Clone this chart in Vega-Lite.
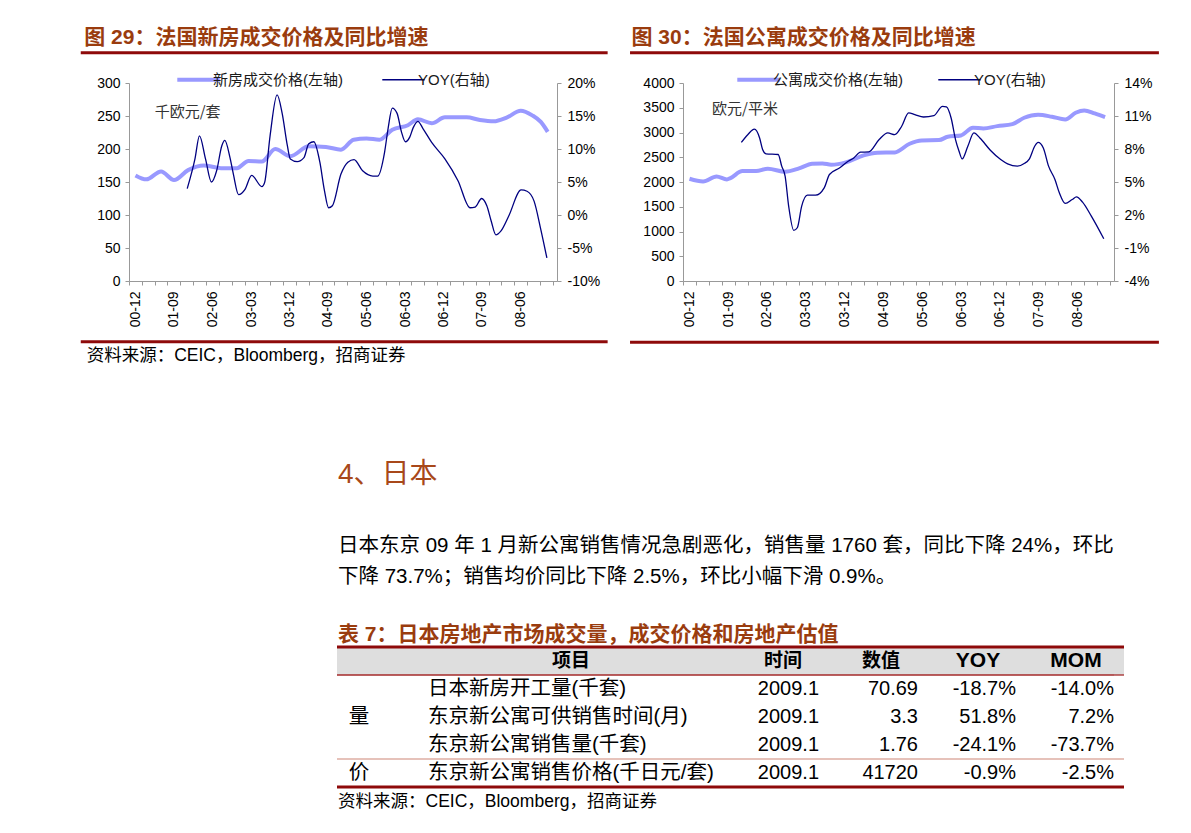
{
  "$schema": "https://vega.github.io/schema/vega-lite/v6.json",
  "autosize": {"type": "pad"},
  "padding": {"left": 79, "top": 27, "right": 5, "bottom": 5},
  "background": "#ffffff",
  "config": {
    "view": {"stroke": null},
    "font": "Liberation Sans, Noto Sans CJK SC",
    "axis": {"labelFont": "Liberation Sans", "labelFontSize": 14, "labelColor": "#000000", "domain": true, "ticks": true, "domainColor": "#999999", "domainWidth": 1, "tickColor": "#999999", "tickWidth": 1, "tickSize": 4, "grid": false},
    "text": {"font": "Liberation Sans, Noto Sans CJK SC"}
  },
  "datasets": {
    "p29": [
      {"d":"2000-12-01","v":160},{"d":"2001-02-16","v":154},{"d":"2001-06-01","v":166},{"d":"2001-09-01","v":153},
      {"d":"2001-12-10","v":168},{"d":"2002-04-01","v":175},{"d":"2002-08-01","v":171},{"d":"2002-11-22","v":171},
      {"d":"2003-02-13","v":182},{"d":"2003-05-19","v":181},{"d":"2003-08-22","v":200},{"d":"2003-12-07","v":189},
      {"d":"2004-04-16","v":204},{"d":"2004-08-16","v":203},{"d":"2004-12-01","v":199},{"d":"2005-03-01","v":214},
      {"d":"2005-06-01","v":216},{"d":"2005-09-01","v":214},{"d":"2005-12-01","v":229},{"d":"2006-03-22","v":236},
      {"d":"2006-06-01","v":245},{"d":"2006-09-07","v":239},{"d":"2006-12-10","v":248},{"d":"2007-05-13","v":248},
      {"d":"2007-08-16","v":244},{"d":"2007-11-22","v":242},{"d":"2008-02-25","v":248},{"d":"2008-06-01","v":258},
      {"d":"2008-08-22","v":251},{"d":"2008-10-22","v":241},{"d":"2008-12-10","v":226}
    ],
    "y29": [
      {"d":"2001-12-04","v":4.0},{"d":"2002-01-28","v":8.5},{"d":"2002-03-01","v":12.0},{"d":"2002-04-13","v":8.5},
      {"d":"2002-05-25","v":5.0},{"d":"2002-07-01","v":6.7},{"d":"2002-08-07","v":10.5},{"d":"2002-08-28","v":11.3},
      {"d":"2002-10-04","v":8.7},{"d":"2002-10-28","v":6.2},{"d":"2002-12-04","v":3.1},{"d":"2003-01-19","v":3.9},
      {"d":"2003-03-07","v":6.0},{"d":"2003-05-19","v":4.3},{"d":"2003-06-07","v":4.9},{"d":"2003-07-16","v":12.0},
      {"d":"2003-09-04","v":18.2},{"d":"2003-10-10","v":15.4},{"d":"2003-11-16","v":10.5},{"d":"2003-12-07","v":8.5},
      {"d":"2004-01-25","v":8.1},{"d":"2004-03-13","v":8.7},{"d":"2004-04-16","v":10.8},{"d":"2004-05-22","v":11.1},
      {"d":"2004-07-04","v":8.0},{"d":"2004-08-04","v":3.9},{"d":"2004-09-04","v":1.1},{"d":"2004-10-01","v":1.4},
      {"d":"2004-12-01","v":6.2},{"d":"2005-01-19","v":8.0},{"d":"2005-03-04","v":8.4},{"d":"2005-05-04","v":6.7},
      {"d":"2005-07-16","v":5.9},{"d":"2005-08-19","v":5.9},{"d":"2005-10-07","v":9.5},{"d":"2005-11-01","v":13.1},
      {"d":"2005-12-01","v":16.2},{"d":"2006-01-04","v":15.4},{"d":"2006-02-04","v":12.6},{"d":"2006-03-04","v":11.1},
      {"d":"2006-04-04","v":11.8},{"d":"2006-04-28","v":13.2},{"d":"2006-06-01","v":14.2},{"d":"2006-07-07","v":13.1},
      {"d":"2006-09-07","v":11.0},{"d":"2006-12-10","v":8.5},{"d":"2007-03-13","v":5.2},{"d":"2007-06-07","v":1.1},
      {"d":"2007-07-13","v":1.2},{"d":"2007-08-28","v":2.5},{"d":"2007-10-04","v":1.4},{"d":"2007-11-04","v":-0.9},
      {"d":"2007-12-07","v":-3.0},{"d":"2008-01-13","v":-2.4},{"d":"2008-03-07","v":-0.2},{"d":"2008-06-04","v":3.8},
      {"d":"2008-07-16","v":3.6},{"d":"2008-09-04","v":2.1},{"d":"2008-10-22","v":-2.2},{"d":"2008-12-04","v":-6.5}
    ],
    "p30": [
      {"d":"2000-12-01","v":2066},{"d":"2001-03-07","v":2012},{"d":"2001-06-10","v":2113},{"d":"2001-08-22","v":2053},
      {"d":"2001-09-16","v":2080},{"d":"2001-12-10","v":2221},{"d":"2002-03-16","v":2221},{"d":"2002-06-07","v":2268},
      {"d":"2002-10-07","v":2207},{"d":"2003-01-13","v":2275},{"d":"2003-04-16","v":2369},{"d":"2003-06-28","v":2376},
      {"d":"2003-08-28","v":2349},{"d":"2003-12-16","v":2403},{"d":"2004-04-13","v":2537},{"d":"2004-07-19","v":2591},
      {"d":"2004-11-19","v":2598},{"d":"2005-03-04","v":2773},{"d":"2005-05-28","v":2840},{"d":"2005-09-28","v":2847},
      {"d":"2005-11-28","v":2914},{"d":"2006-03-01","v":2941},{"d":"2006-05-25","v":3096},{"d":"2006-08-07","v":3082},
      {"d":"2006-11-13","v":3129},{"d":"2007-02-28","v":3170},{"d":"2007-05-22","v":3298},{"d":"2007-08-28","v":3358},
      {"d":"2007-12-04","v":3318},{"d":"2008-03-07","v":3264},{"d":"2008-05-19","v":3399},{"d":"2008-07-19","v":3446},
      {"d":"2008-10-01","v":3385},{"d":"2008-12-13","v":3311}
    ],
    "y30": [
      {"d":"2001-12-02","v":8.6},{"d":"2002-01-16","v":9.3},{"d":"2002-03-04","v":9.8},{"d":"2002-04-10","v":9.0},
      {"d":"2002-05-01","v":7.95},{"d":"2002-05-25","v":7.56},{"d":"2002-08-19","v":7.5},{"d":"2002-09-13","v":6.44},
      {"d":"2002-10-07","v":5.53},{"d":"2002-11-01","v":2.81},{"d":"2002-12-07","v":0.6},{"d":"2003-01-01","v":0.84},
      {"d":"2003-02-01","v":2.81},{"d":"2003-03-13","v":3.8},{"d":"2003-05-10","v":3.8},{"d":"2003-07-10","v":4.47},
      {"d":"2003-08-16","v":5.68},{"d":"2003-10-28","v":6.29},{"d":"2003-12-16","v":6.8},{"d":"2004-02-04","v":7.19},
      {"d":"2004-03-22","v":7.71},{"d":"2004-05-19","v":7.74},{"d":"2004-08-01","v":8.86},{"d":"2004-10-01","v":9.46},
      {"d":"2004-11-19","v":9.31},{"d":"2005-01-07","v":10.07},{"d":"2005-02-25","v":11.28},{"d":"2005-04-10","v":11.13},
      {"d":"2005-06-10","v":10.91},{"d":"2005-08-22","v":11.03},{"d":"2005-10-22","v":11.88},{"d":"2005-11-19","v":11.82},
      {"d":"2005-12-22","v":10.82},{"d":"2006-01-22","v":8.86},{"d":"2006-02-16","v":7.8},{"d":"2006-03-10","v":7.1},
      {"d":"2006-04-19","v":8.25},{"d":"2006-06-01","v":9.46},{"d":"2006-07-13","v":9.0},{"d":"2006-09-25","v":7.89},
      {"d":"2006-12-07","v":7.04},{"d":"2007-01-25","v":6.65},{"d":"2007-04-04","v":6.44},{"d":"2007-05-22","v":6.68},
      {"d":"2007-06-28","v":7.1},{"d":"2007-08-04","v":8.25},{"d":"2007-08-28","v":8.61},{"d":"2007-10-04","v":8.1},
      {"d":"2007-11-10","v":6.44},{"d":"2007-12-25","v":5.23},{"d":"2008-01-25","v":4.02},{"d":"2008-03-07","v":3.05},
      {"d":"2008-04-25","v":3.41},{"d":"2008-05-25","v":3.65},{"d":"2008-07-07","v":3.17},{"d":"2008-09-07","v":1.9},
      {"d":"2008-12-04","v":-0.16}
    ],
    "tbl": [
      {"r":0,"item":"项目","time":"时间","value":"数值","yoy":"YOY","mom":"MOM"},
      {"r":1,"item":"日本新房开工量(千套)","time":"2009.1","value":"70.69","yoy":"-18.7%","mom":"-14.0%"},
      {"r":2,"item":"东京新公寓可供销售时间(月)","time":"2009.1","value":"3.3","yoy":"51.8%","mom":"7.2%"},
      {"r":3,"item":"东京新公寓销售量(千套)","time":"2009.1","value":"1.76","yoy":"-24.1%","mom":"-73.7%"},
      {"r":4,"item":"东京新公寓销售价格(千日元/套)","time":"2009.1","value":"41720","yoy":"-0.9%","mom":"-2.5%"}
    ],
    "grp": [{"r":2,"g":"量"},{"r":4,"g":"价"}],
    "one": [{}]
  },
  "spacing": 96,
  "vconcat": [
    {
      "spacing": 18,
      "resolve": {"scale": {"color": "independent"}, "legend": {"color": "independent"}},
      "hconcat": [
        {
          "width": 428, "height": 198,
          "title": {"text": "图 29：法国新房成交价格及同比增速", "anchor": "start", "frame": "bounds", "fontSize": 21, "fontWeight": "bold", "color": "#9A3C0E", "font": "Liberation Sans, Noto Sans CJK SC", "offset": 3, "dx": 5},
          "resolve": {"scale": {"x": "independent", "y": "independent"}},
          "layer": [
            {
              "data": {"name": "p29"},
              "mark": {"type": "line", "interpolate": "monotone", "strokeWidth": 4},
              "encoding": {
                "x": {"field": "d", "type": "temporal",
                  "scale": {"type": "utc", "nice": false, "domain": [{"year":2000,"month":10,"date":16,"utc":true},{"year":2009,"month":2,"date":14,"utc":true}]},
                  "axis": {"title": null, "orient": "bottom", "labelAngle": 270, "labelOffset": 6.4, "labelOverlap": false, "labelFlush": false, "labelBound": false, "labelPadding": 6, "tickSize": 4,
                    "labelExpr": "((utcyear(datum.value) - 2000) * 12 + utcmonth(datum.value) - 9) % 9 == 0 && datum.value < utc(2009, 0, 1) ? utcFormat(utc(utcyear(datum.value), utcmonth(datum.value) + 2, 1), '%y-%m') : ''",
                    "values": [{"year":2000,"month":10,"date":16,"utc":true},
                      {"year":2001,"month":1,"date":16,"utc":true},{"year":2001,"month":4,"date":16,"utc":true},{"year":2001,"month":7,"date":16,"utc":true},{"year":2001,"month":10,"date":16,"utc":true},
                      {"year":2002,"month":1,"date":16,"utc":true},{"year":2002,"month":4,"date":16,"utc":true},{"year":2002,"month":7,"date":16,"utc":true},{"year":2002,"month":10,"date":16,"utc":true},
                      {"year":2003,"month":1,"date":16,"utc":true},{"year":2003,"month":4,"date":16,"utc":true},{"year":2003,"month":7,"date":16,"utc":true},{"year":2003,"month":10,"date":16,"utc":true},
                      {"year":2004,"month":1,"date":16,"utc":true},{"year":2004,"month":4,"date":16,"utc":true},{"year":2004,"month":7,"date":16,"utc":true},{"year":2004,"month":10,"date":16,"utc":true},
                      {"year":2005,"month":1,"date":16,"utc":true},{"year":2005,"month":4,"date":16,"utc":true},{"year":2005,"month":7,"date":16,"utc":true},{"year":2005,"month":10,"date":16,"utc":true},
                      {"year":2006,"month":1,"date":16,"utc":true},{"year":2006,"month":4,"date":16,"utc":true},{"year":2006,"month":7,"date":16,"utc":true},{"year":2006,"month":10,"date":16,"utc":true},
                      {"year":2007,"month":1,"date":16,"utc":true},{"year":2007,"month":4,"date":16,"utc":true},{"year":2007,"month":7,"date":16,"utc":true},{"year":2007,"month":10,"date":16,"utc":true},
                      {"year":2008,"month":1,"date":16,"utc":true},{"year":2008,"month":4,"date":16,"utc":true},{"year":2008,"month":7,"date":16,"utc":true},{"year":2008,"month":10,"date":16,"utc":true},
                      {"year":2009,"month":1,"date":16,"utc":true}]}},
                "y": {"field": "v", "type": "quantitative", "scale": {"domain": [0, 300], "nice": false, "zero": false},
                  "axis": {"orient": "left", "title": null, "values": [0, 50, 100, 150, 200, 250, 300], "labelPadding": 5}},
                "color": {"datum": "新房成交价格(左轴)", "type": "nominal",
                  "scale": {"domain": ["新房成交价格(左轴)", "YOY(右轴)"], "range": ["#9999FF", "#000080"]},
                  "legend": {"orient": "none", "legendX": 62, "legendY": -11, "direction": "horizontal", "title": null, "symbolType": "stroke", "symbolSize": 1800, "labelFontSize": 15, "labelFont": "Liberation Sans, Noto Sans CJK SC", "labelColor": "#1a1a1a", "columnPadding": 36, "labelOffset": 7, "padding": 0, "labelLimit": 300,
                    "encode": {"symbols": {"update": {"strokeWidth": {"signal": "datum.value === 'YOY(右轴)' ? 1.5 : 4"}}}}}}
              }
            },
            {
              "data": {"name": "y29"},
              "mark": {"type": "line", "interpolate": "monotone", "strokeWidth": 1.3},
              "encoding": {
                "x": {"field": "d", "type": "temporal", "scale": {"type": "utc", "nice": false, "domain": [{"year":2000,"month":10,"date":16,"utc":true},{"year":2009,"month":2,"date":14,"utc":true}]}, "axis": null},
                "y": {"field": "v", "type": "quantitative", "scale": {"domain": [-10, 20], "nice": false, "zero": false},
                  "axis": {"orient": "right", "title": null, "values": [-10, -5, 0, 5, 10, 15, 20], "labelExpr": "datum.value + '%'", "labelPadding": 6}},
                "color": {"datum": "YOY(右轴)", "type": "nominal"}
              }
            },
            {
              "data": {"name": "one"},
              "mark": {"type": "rule", "color": "#8E0A0A", "strokeWidth": 3},
              "encoding": {
                "x": {"datum": {"year":1999,"month":11,"date":8,"utc":true}, "type": "temporal", "scale": {"type": "utc", "nice": false, "domain": [{"year":2000,"month":10,"date":16,"utc":true},{"year":2009,"month":2,"date":14,"utc":true}]}, "axis": null},
                "x2": {"datum": {"year":2010,"month":2,"date":9,"utc":true}},
                "y": {"datum": 345.9, "type": "quantitative", "scale": {"domain": [0, 300], "nice": false, "zero": false}, "axis": null}
              }
            },
            {
              "data": {"name": "one"},
              "mark": {"type": "rule", "color": "#8E0A0A", "strokeWidth": 3},
              "encoding": {
                "x": {"datum": {"year":1999,"month":11,"date":8,"utc":true}, "type": "temporal", "scale": {"type": "utc", "nice": false, "domain": [{"year":2000,"month":10,"date":16,"utc":true},{"year":2009,"month":2,"date":14,"utc":true}]}, "axis": null},
                "x2": {"datum": {"year":2010,"month":2,"date":9,"utc":true}},
                "y": {"datum": -92, "type": "quantitative", "scale": {"domain": [0, 300], "nice": false, "zero": false}, "axis": null}
              }
            },
            {
              "data": {"values": [{"t": "千欧元/套"}]},
              "mark": {"type": "text", "align": "left", "baseline": "middle", "fontSize": 15, "color": "#333333", "font": "Noto Sans CJK SC"},
              "encoding": {
                "x": {"datum": {"year":2001,"month":4,"date":17,"utc":true}, "type": "temporal", "scale": {"type": "utc", "nice": false, "domain": [{"year":2000,"month":10,"date":16,"utc":true},{"year":2009,"month":2,"date":14,"utc":true}]}, "axis": null},
                "y": {"datum": 256.5, "type": "quantitative", "scale": {"domain": [0, 300], "nice": false, "zero": false}, "axis": null},
                "text": {"field": "t"}
              }
            },
            {
              "data": {"values": [{"t": "资料来源：CEIC，Bloomberg，招商证券"}]},
              "mark": {"type": "text", "align": "left", "baseline": "middle", "fontSize": 17.5, "color": "#000000"},
              "encoding": {
                "x": {"datum": {"year":1999,"month":12,"date":20,"utc":true}, "type": "temporal", "scale": {"type": "utc", "nice": false, "domain": [{"year":2000,"month":10,"date":16,"utc":true},{"year":2009,"month":2,"date":14,"utc":true}]}, "axis": null},
                "y": {"datum": -113, "type": "quantitative", "scale": {"domain": [0, 300], "nice": false, "zero": false}, "axis": null},
                "text": {"field": "t"}
              }
            }
          ]
        },
        {
          "width": 431, "height": 198,
          "title": {"text": "图 30：法国公寓成交价格及同比增速", "anchor": "start", "frame": "bounds", "fontSize": 21, "fontWeight": "bold", "color": "#9A3C0E", "font": "Liberation Sans, Noto Sans CJK SC", "offset": 3, "dx": 3},
          "resolve": {"scale": {"x": "independent", "y": "independent"}},
          "layer": [
            {
              "data": {"name": "p30"},
              "mark": {"type": "line", "interpolate": "monotone", "strokeWidth": 4},
              "encoding": {
                "x": {"field": "d", "type": "temporal",
                  "scale": {"type": "utc", "nice": false, "domain": [{"year":2000,"month":10,"date":16,"utc":true},{"year":2009,"month":2,"date":14,"utc":true}]},
                  "axis": {"title": null, "orient": "bottom", "labelAngle": 270, "labelOffset": 6.4, "labelOverlap": false, "labelFlush": false, "labelBound": false, "labelPadding": 6, "tickSize": 4,
                    "labelExpr": "((utcyear(datum.value) - 2000) * 12 + utcmonth(datum.value) - 9) % 9 == 0 && datum.value < utc(2009, 0, 1) ? utcFormat(utc(utcyear(datum.value), utcmonth(datum.value) + 2, 1), '%y-%m') : ''",
                    "values": [{"year":2000,"month":10,"date":16,"utc":true},
                      {"year":2001,"month":1,"date":16,"utc":true},{"year":2001,"month":4,"date":16,"utc":true},{"year":2001,"month":7,"date":16,"utc":true},{"year":2001,"month":10,"date":16,"utc":true},
                      {"year":2002,"month":1,"date":16,"utc":true},{"year":2002,"month":4,"date":16,"utc":true},{"year":2002,"month":7,"date":16,"utc":true},{"year":2002,"month":10,"date":16,"utc":true},
                      {"year":2003,"month":1,"date":16,"utc":true},{"year":2003,"month":4,"date":16,"utc":true},{"year":2003,"month":7,"date":16,"utc":true},{"year":2003,"month":10,"date":16,"utc":true},
                      {"year":2004,"month":1,"date":16,"utc":true},{"year":2004,"month":4,"date":16,"utc":true},{"year":2004,"month":7,"date":16,"utc":true},{"year":2004,"month":10,"date":16,"utc":true},
                      {"year":2005,"month":1,"date":16,"utc":true},{"year":2005,"month":4,"date":16,"utc":true},{"year":2005,"month":7,"date":16,"utc":true},{"year":2005,"month":10,"date":16,"utc":true},
                      {"year":2006,"month":1,"date":16,"utc":true},{"year":2006,"month":4,"date":16,"utc":true},{"year":2006,"month":7,"date":16,"utc":true},{"year":2006,"month":10,"date":16,"utc":true},
                      {"year":2007,"month":1,"date":16,"utc":true},{"year":2007,"month":4,"date":16,"utc":true},{"year":2007,"month":7,"date":16,"utc":true},{"year":2007,"month":10,"date":16,"utc":true},
                      {"year":2008,"month":1,"date":16,"utc":true},{"year":2008,"month":4,"date":16,"utc":true},{"year":2008,"month":7,"date":16,"utc":true},{"year":2008,"month":10,"date":16,"utc":true},
                      {"year":2009,"month":1,"date":16,"utc":true}]}},
                "y": {"field": "v", "type": "quantitative", "scale": {"domain": [0, 4000], "nice": false, "zero": false},
                  "axis": {"orient": "left", "title": null, "format": "d", "values": [0, 500, 1000, 1500, 2000, 2500, 3000, 3500, 4000], "labelPadding": 5}},
                "color": {"datum": "公寓成交价格(左轴)", "type": "nominal",
                  "scale": {"domain": ["公寓成交价格(左轴)", "YOY(右轴)"], "range": ["#9999FF", "#000080"]},
                  "legend": {"orient": "none", "legendX": 68, "legendY": -11, "direction": "horizontal", "title": null, "symbolType": "stroke", "symbolSize": 1800, "labelFontSize": 15, "labelFont": "Liberation Sans, Noto Sans CJK SC", "labelColor": "#1a1a1a", "columnPadding": 32, "labelOffset": 7, "padding": 0, "labelLimit": 300,
                    "encode": {"symbols": {"update": {"strokeWidth": {"signal": "datum.value === 'YOY(右轴)' ? 1.5 : 4"}}}}}}
              }
            },
            {
              "data": {"name": "y30"},
              "mark": {"type": "line", "interpolate": "monotone", "strokeWidth": 1.3},
              "encoding": {
                "x": {"field": "d", "type": "temporal", "scale": {"type": "utc", "nice": false, "domain": [{"year":2000,"month":10,"date":16,"utc":true},{"year":2009,"month":2,"date":14,"utc":true}]}, "axis": null},
                "y": {"field": "v", "type": "quantitative", "scale": {"domain": [-4, 14], "nice": false, "zero": false},
                  "axis": {"orient": "right", "title": null, "values": [-4, -1, 2, 5, 8, 11, 14], "labelExpr": "datum.value + '%'", "labelPadding": 6}},
                "color": {"datum": "YOY(右轴)", "type": "nominal"}
              }
            },
            {
              "data": {"name": "one"},
              "mark": {"type": "rule", "color": "#8E0A0A", "strokeWidth": 3},
              "encoding": {
                "x": {"datum": {"year":1999,"month":10,"date":8,"utc":true}, "type": "temporal", "scale": {"type": "utc", "nice": false, "domain": [{"year":2000,"month":10,"date":16,"utc":true},{"year":2009,"month":2,"date":14,"utc":true}]}, "axis": null},
                "x2": {"datum": {"year":2009,"month":12,"date":28,"utc":true}},
                "y": {"datum": 4612, "type": "quantitative", "scale": {"domain": [0, 4000], "nice": false, "zero": false}, "axis": null}
              }
            },
            {
              "data": {"name": "one"},
              "mark": {"type": "rule", "color": "#8E0A0A", "strokeWidth": 3},
              "encoding": {
                "x": {"datum": {"year":1999,"month":10,"date":8,"utc":true}, "type": "temporal", "scale": {"type": "utc", "nice": false, "domain": [{"year":2000,"month":10,"date":16,"utc":true},{"year":2009,"month":2,"date":14,"utc":true}]}, "axis": null},
                "x2": {"datum": {"year":2009,"month":12,"date":28,"utc":true}},
                "y": {"datum": -1236, "type": "quantitative", "scale": {"domain": [0, 4000], "nice": false, "zero": false}, "axis": null}
              }
            },
            {
              "data": {"values": [{"t": "欧元/平米"}]},
              "mark": {"type": "text", "align": "left", "baseline": "middle", "fontSize": 15, "color": "#333333", "font": "Noto Sans CJK SC"},
              "encoding": {
                "x": {"datum": {"year":2001,"month":5,"date":9,"utc":true}, "type": "temporal", "scale": {"type": "utc", "nice": false, "domain": [{"year":2000,"month":10,"date":16,"utc":true},{"year":2009,"month":2,"date":14,"utc":true}]}, "axis": null},
                "y": {"datum": 3469, "type": "quantitative", "scale": {"domain": [0, 4000], "nice": false, "zero": false}, "axis": null},
                "text": {"field": "t"}
              }
            }
          ]
        }
      ]
    },
    {
      "spacing": 0,
      "bounds": "flush",
      "hconcat": [
        {"width": 208, "height": 140, "data": {"values": []}, "mark": {"type": "point", "opacity": 0}},
        {
          "width": 91, "height": 140,
          "layer": [
            {"data": {"name": "one"}, "mark": {"type": "rect", "color": "#DEDEDE"}, "encoding": {"y": {"datum": -0.5, "type": "quantitative", "scale": {"domain": [-0.5, 4.5], "reverse": true, "nice": false, "zero": false}, "axis": null}, "y2": {"datum": 0.5}}},
            {"data": {"name": "one"}, "mark": {"type": "rule", "color": "#8E0A0A", "strokeWidth": 3}, "encoding": {"y": {"datum": -0.5, "type": "quantitative", "scale": {"domain": [-0.5, 4.5], "reverse": true, "nice": false, "zero": false}, "axis": null}}},
            {"data": {"name": "one"}, "mark": {"type": "rule", "color": "#A52A2A", "strokeWidth": 1.3}, "encoding": {"y": {"datum": 0.5, "type": "quantitative", "scale": {"domain": [-0.5, 4.5], "reverse": true, "nice": false, "zero": false}, "axis": null}}},
            {"data": {"name": "one"}, "mark": {"type": "rule", "color": "#E6C2BA", "strokeWidth": 2}, "encoding": {"y": {"datum": 3.5, "type": "quantitative", "scale": {"domain": [-0.5, 4.5], "reverse": true, "nice": false, "zero": false}, "axis": null}}},
            {"data": {"name": "one"}, "mark": {"type": "rule", "color": "#8E0A0A", "strokeWidth": 3}, "encoding": {"y": {"datum": 4.5, "type": "quantitative", "scale": {"domain": [-0.5, 4.5], "reverse": true, "nice": false, "zero": false}, "axis": null}}},
            {"data": {"name": "grp"}, "mark": {"type": "text", "align": "center", "baseline": "middle", "fontSize": 20.5, "font": "Noto Sans CJK SC", "color": "#000000"},
             "encoding": {"x": {"datum": 0.242, "type": "quantitative", "scale": {"domain": [0, 1], "nice": false, "zero": false}, "axis": null}, "y": {"field": "r", "type": "quantitative", "scale": {"domain": [-0.5, 4.5], "reverse": true, "nice": false, "zero": false}, "axis": null}, "text": {"field": "g"}}},
            {"data": {"values": [{"t": "4、日本"}]}, "mark": {"type": "text", "align": "left", "baseline": "middle", "fontSize": 28, "color": "#A8481A"},
             "encoding": {"x": {"datum": 0.011, "type": "quantitative", "scale": {"domain": [0, 1], "nice": false, "zero": false}, "axis": null}, "y": {"datum": -6.64, "type": "quantitative", "scale": {"domain": [-0.5, 4.5], "reverse": true, "nice": false, "zero": false}, "axis": null}, "text": {"field": "t"}}},
            {"data": {"values": [{"t": "日本东京 09 年 1 月新公寓销售情况急剧恶化，销售量 1760 套，同比下降 24%，环比\n下降 73.7%；销售均价同比下降 2.5%，环比小幅下滑 0.9%。"}]}, "mark": {"type": "text", "align": "left", "baseline": "middle", "fontSize": 20.5, "lineHeight": 31, "lineBreak": "\n", "color": "#000000"},
             "encoding": {"x": {"datum": 0.011, "type": "quantitative", "scale": {"domain": [0, 1], "nice": false, "zero": false}, "axis": null}, "y": {"datum": -4.09, "type": "quantitative", "scale": {"domain": [-0.5, 4.5], "reverse": true, "nice": false, "zero": false}, "axis": null}, "text": {"field": "t"}}},
            {"data": {"values": [{"t": "表 7：日本房地产市场成交量，成交价格和房地产估值"}]}, "mark": {"type": "text", "align": "left", "baseline": "middle", "fontSize": 21, "fontWeight": "bold", "color": "#9A3C0E"},
             "encoding": {"x": {"datum": 0.011, "type": "quantitative", "scale": {"domain": [0, 1], "nice": false, "zero": false}, "axis": null}, "y": {"datum": -0.93, "type": "quantitative", "scale": {"domain": [-0.5, 4.5], "reverse": true, "nice": false, "zero": false}, "axis": null}, "text": {"field": "t"}}},
            {"data": {"values": [{"t": "资料来源：CEIC，Bloomberg，招商证券"}]}, "mark": {"type": "text", "align": "left", "baseline": "middle", "fontSize": 17.5, "color": "#000000"},
             "encoding": {"x": {"datum": 0.011, "type": "quantitative", "scale": {"domain": [0, 1], "nice": false, "zero": false}, "axis": null}, "y": {"datum": 5.04, "type": "quantitative", "scale": {"domain": [-0.5, 4.5], "reverse": true, "nice": false, "zero": false}, "axis": null}, "text": {"field": "t"}}}
          ]
        },
        {
          "width": 323, "height": 140,
          "layer": [
            {"data": {"name": "one"}, "mark": {"type": "rect", "color": "#DEDEDE"}, "encoding": {"y": {"datum": -0.5, "type": "quantitative", "scale": {"domain": [-0.5, 4.5], "reverse": true, "nice": false, "zero": false}, "axis": null}, "y2": {"datum": 0.5}}},
            {"data": {"name": "one"}, "mark": {"type": "rule", "color": "#8E0A0A", "strokeWidth": 3}, "encoding": {"y": {"datum": -0.5, "type": "quantitative", "scale": {"domain": [-0.5, 4.5], "reverse": true, "nice": false, "zero": false}, "axis": null}}},
            {"data": {"name": "one"}, "mark": {"type": "rule", "color": "#A52A2A", "strokeWidth": 1.3}, "encoding": {"y": {"datum": 0.5, "type": "quantitative", "scale": {"domain": [-0.5, 4.5], "reverse": true, "nice": false, "zero": false}, "axis": null}}},
            {"data": {"name": "one"}, "mark": {"type": "rule", "color": "#E6C2BA", "strokeWidth": 2}, "encoding": {"y": {"datum": 3.5, "type": "quantitative", "scale": {"domain": [-0.5, 4.5], "reverse": true, "nice": false, "zero": false}, "axis": null}}},
            {"data": {"name": "one"}, "mark": {"type": "rule", "color": "#8E0A0A", "strokeWidth": 3}, "encoding": {"y": {"datum": 4.5, "type": "quantitative", "scale": {"domain": [-0.5, 4.5], "reverse": true, "nice": false, "zero": false}, "axis": null}}},
            {"data": {"name": "tbl"}, "transform": [{"filter": "datum.r == 0"}], "mark": {"type": "text", "align": "center", "baseline": "middle", "fontSize": 19, "fontWeight": "bold", "font": "Noto Sans CJK SC", "color": "#000000"},
             "encoding": {"x": {"datum": 0.443, "type": "quantitative", "scale": {"domain": [0, 1], "nice": false, "zero": false}, "axis": null}, "y": {"field": "r", "type": "quantitative", "scale": {"domain": [-0.5, 4.5], "reverse": true, "nice": false, "zero": false}, "axis": null}, "text": {"field": "item"}}},
            {"data": {"name": "tbl"}, "transform": [{"filter": "datum.r > 0"}], "mark": {"type": "text", "align": "left", "baseline": "middle", "fontSize": 20.5, "color": "#000000"},
             "encoding": {"x": {"datum": 0, "type": "quantitative", "scale": {"domain": [0, 1], "nice": false, "zero": false}, "axis": null}, "y": {"field": "r", "type": "quantitative", "scale": {"domain": [-0.5, 4.5], "reverse": true, "nice": false, "zero": false}, "axis": null}, "text": {"field": "item"}}}
          ]
        },
        {
          "width": 68, "height": 140,
          "layer": [
            {"data": {"name": "one"}, "mark": {"type": "rect", "color": "#DEDEDE"}, "encoding": {"y": {"datum": -0.5, "type": "quantitative", "scale": {"domain": [-0.5, 4.5], "reverse": true, "nice": false, "zero": false}, "axis": null}, "y2": {"datum": 0.5}}},
            {"data": {"name": "one"}, "mark": {"type": "rule", "color": "#8E0A0A", "strokeWidth": 3}, "encoding": {"y": {"datum": -0.5, "type": "quantitative", "scale": {"domain": [-0.5, 4.5], "reverse": true, "nice": false, "zero": false}, "axis": null}}},
            {"data": {"name": "one"}, "mark": {"type": "rule", "color": "#A52A2A", "strokeWidth": 1.3}, "encoding": {"y": {"datum": 0.5, "type": "quantitative", "scale": {"domain": [-0.5, 4.5], "reverse": true, "nice": false, "zero": false}, "axis": null}}},
            {"data": {"name": "one"}, "mark": {"type": "rule", "color": "#E6C2BA", "strokeWidth": 2}, "encoding": {"y": {"datum": 3.5, "type": "quantitative", "scale": {"domain": [-0.5, 4.5], "reverse": true, "nice": false, "zero": false}, "axis": null}}},
            {"data": {"name": "one"}, "mark": {"type": "rule", "color": "#8E0A0A", "strokeWidth": 3}, "encoding": {"y": {"datum": 4.5, "type": "quantitative", "scale": {"domain": [-0.5, 4.5], "reverse": true, "nice": false, "zero": false}, "axis": null}}},
            {"data": {"name": "tbl"}, "transform": [{"filter": "datum.r == 0"}], "mark": {"type": "text", "align": "center", "baseline": "middle", "fontSize": 19, "fontWeight": "bold", "font": "Noto Sans CJK SC", "color": "#000000"},
             "encoding": {"x": {"datum": 0.47, "type": "quantitative", "scale": {"domain": [0, 1], "nice": false, "zero": false}, "axis": null}, "y": {"field": "r", "type": "quantitative", "scale": {"domain": [-0.5, 4.5], "reverse": true, "nice": false, "zero": false}, "axis": null}, "text": {"field": "time"}}},
            {"data": {"name": "tbl"}, "transform": [{"filter": "datum.r > 0"}], "mark": {"type": "text", "align": "right", "baseline": "middle", "fontSize": 20, "font": "Liberation Sans", "color": "#000000"},
             "encoding": {"x": {"datum": 1, "type": "quantitative", "scale": {"domain": [0, 1], "nice": false, "zero": false}, "axis": null}, "y": {"field": "r", "type": "quantitative", "scale": {"domain": [-0.5, 4.5], "reverse": true, "nice": false, "zero": false}, "axis": null}, "text": {"field": "time"}}}
          ]
        },
        {
          "width": 99, "height": 140,
          "layer": [
            {"data": {"name": "one"}, "mark": {"type": "rect", "color": "#DEDEDE"}, "encoding": {"y": {"datum": -0.5, "type": "quantitative", "scale": {"domain": [-0.5, 4.5], "reverse": true, "nice": false, "zero": false}, "axis": null}, "y2": {"datum": 0.5}}},
            {"data": {"name": "one"}, "mark": {"type": "rule", "color": "#8E0A0A", "strokeWidth": 3}, "encoding": {"y": {"datum": -0.5, "type": "quantitative", "scale": {"domain": [-0.5, 4.5], "reverse": true, "nice": false, "zero": false}, "axis": null}}},
            {"data": {"name": "one"}, "mark": {"type": "rule", "color": "#A52A2A", "strokeWidth": 1.3}, "encoding": {"y": {"datum": 0.5, "type": "quantitative", "scale": {"domain": [-0.5, 4.5], "reverse": true, "nice": false, "zero": false}, "axis": null}}},
            {"data": {"name": "one"}, "mark": {"type": "rule", "color": "#E6C2BA", "strokeWidth": 2}, "encoding": {"y": {"datum": 3.5, "type": "quantitative", "scale": {"domain": [-0.5, 4.5], "reverse": true, "nice": false, "zero": false}, "axis": null}}},
            {"data": {"name": "one"}, "mark": {"type": "rule", "color": "#8E0A0A", "strokeWidth": 3}, "encoding": {"y": {"datum": 4.5, "type": "quantitative", "scale": {"domain": [-0.5, 4.5], "reverse": true, "nice": false, "zero": false}, "axis": null}}},
            {"data": {"name": "tbl"}, "transform": [{"filter": "datum.r == 0"}], "mark": {"type": "text", "align": "center", "baseline": "middle", "fontSize": 19, "fontWeight": "bold", "font": "Noto Sans CJK SC", "color": "#000000"},
             "encoding": {"x": {"datum": 0.626, "type": "quantitative", "scale": {"domain": [0, 1], "nice": false, "zero": false}, "axis": null}, "y": {"field": "r", "type": "quantitative", "scale": {"domain": [-0.5, 4.5], "reverse": true, "nice": false, "zero": false}, "axis": null}, "text": {"field": "value"}}},
            {"data": {"name": "tbl"}, "transform": [{"filter": "datum.r > 0"}], "mark": {"type": "text", "align": "right", "baseline": "middle", "fontSize": 20, "font": "Liberation Sans", "color": "#000000"},
             "encoding": {"x": {"datum": 1, "type": "quantitative", "scale": {"domain": [0, 1], "nice": false, "zero": false}, "axis": null}, "y": {"field": "r", "type": "quantitative", "scale": {"domain": [-0.5, 4.5], "reverse": true, "nice": false, "zero": false}, "axis": null}, "text": {"field": "value"}}}
          ]
        },
        {
          "width": 98, "height": 140,
          "layer": [
            {"data": {"name": "one"}, "mark": {"type": "rect", "color": "#DEDEDE"}, "encoding": {"y": {"datum": -0.5, "type": "quantitative", "scale": {"domain": [-0.5, 4.5], "reverse": true, "nice": false, "zero": false}, "axis": null}, "y2": {"datum": 0.5}}},
            {"data": {"name": "one"}, "mark": {"type": "rule", "color": "#8E0A0A", "strokeWidth": 3}, "encoding": {"y": {"datum": -0.5, "type": "quantitative", "scale": {"domain": [-0.5, 4.5], "reverse": true, "nice": false, "zero": false}, "axis": null}}},
            {"data": {"name": "one"}, "mark": {"type": "rule", "color": "#A52A2A", "strokeWidth": 1.3}, "encoding": {"y": {"datum": 0.5, "type": "quantitative", "scale": {"domain": [-0.5, 4.5], "reverse": true, "nice": false, "zero": false}, "axis": null}}},
            {"data": {"name": "one"}, "mark": {"type": "rule", "color": "#E6C2BA", "strokeWidth": 2}, "encoding": {"y": {"datum": 3.5, "type": "quantitative", "scale": {"domain": [-0.5, 4.5], "reverse": true, "nice": false, "zero": false}, "axis": null}}},
            {"data": {"name": "one"}, "mark": {"type": "rule", "color": "#8E0A0A", "strokeWidth": 3}, "encoding": {"y": {"datum": 4.5, "type": "quantitative", "scale": {"domain": [-0.5, 4.5], "reverse": true, "nice": false, "zero": false}, "axis": null}}},
            {"data": {"name": "tbl"}, "transform": [{"filter": "datum.r == 0"}], "mark": {"type": "text", "align": "center", "baseline": "middle", "fontSize": 21, "fontWeight": "bold", "font": "Liberation Sans", "color": "#000000"},
             "encoding": {"x": {"datum": 0.612, "type": "quantitative", "scale": {"domain": [0, 1], "nice": false, "zero": false}, "axis": null}, "y": {"field": "r", "type": "quantitative", "scale": {"domain": [-0.5, 4.5], "reverse": true, "nice": false, "zero": false}, "axis": null}, "text": {"field": "yoy"}}},
            {"data": {"name": "tbl"}, "transform": [{"filter": "datum.r > 0"}], "mark": {"type": "text", "align": "right", "baseline": "middle", "fontSize": 20, "font": "Liberation Sans", "color": "#000000"},
             "encoding": {"x": {"datum": 1, "type": "quantitative", "scale": {"domain": [0, 1], "nice": false, "zero": false}, "axis": null}, "y": {"field": "r", "type": "quantitative", "scale": {"domain": [-0.5, 4.5], "reverse": true, "nice": false, "zero": false}, "axis": null}, "text": {"field": "yoy"}}}
          ]
        },
        {
          "width": 98, "height": 140,
          "layer": [
            {"data": {"name": "one"}, "mark": {"type": "rect", "color": "#DEDEDE"}, "encoding": {"y": {"datum": -0.5, "type": "quantitative", "scale": {"domain": [-0.5, 4.5], "reverse": true, "nice": false, "zero": false}, "axis": null}, "y2": {"datum": 0.5}}},
            {"data": {"name": "one"}, "mark": {"type": "rule", "color": "#8E0A0A", "strokeWidth": 3}, "encoding": {"y": {"datum": -0.5, "type": "quantitative", "scale": {"domain": [-0.5, 4.5], "reverse": true, "nice": false, "zero": false}, "axis": null}}},
            {"data": {"name": "one"}, "mark": {"type": "rule", "color": "#A52A2A", "strokeWidth": 1.3}, "encoding": {"y": {"datum": 0.5, "type": "quantitative", "scale": {"domain": [-0.5, 4.5], "reverse": true, "nice": false, "zero": false}, "axis": null}}},
            {"data": {"name": "one"}, "mark": {"type": "rule", "color": "#E6C2BA", "strokeWidth": 2}, "encoding": {"y": {"datum": 3.5, "type": "quantitative", "scale": {"domain": [-0.5, 4.5], "reverse": true, "nice": false, "zero": false}, "axis": null}}},
            {"data": {"name": "one"}, "mark": {"type": "rule", "color": "#8E0A0A", "strokeWidth": 3}, "encoding": {"y": {"datum": 4.5, "type": "quantitative", "scale": {"domain": [-0.5, 4.5], "reverse": true, "nice": false, "zero": false}, "axis": null}}},
            {"data": {"name": "tbl"}, "transform": [{"filter": "datum.r == 0"}], "mark": {"type": "text", "align": "center", "baseline": "middle", "fontSize": 21, "fontWeight": "bold", "font": "Liberation Sans", "color": "#000000"},
             "encoding": {"x": {"datum": 0.612, "type": "quantitative", "scale": {"domain": [0, 1], "nice": false, "zero": false}, "axis": null}, "y": {"field": "r", "type": "quantitative", "scale": {"domain": [-0.5, 4.5], "reverse": true, "nice": false, "zero": false}, "axis": null}, "text": {"field": "mom"}}},
            {"data": {"name": "tbl"}, "transform": [{"filter": "datum.r > 0"}], "mark": {"type": "text", "align": "right", "baseline": "middle", "fontSize": 20, "font": "Liberation Sans", "color": "#000000"},
             "encoding": {"x": {"datum": 1, "type": "quantitative", "scale": {"domain": [0, 1], "nice": false, "zero": false}, "axis": null}, "y": {"field": "r", "type": "quantitative", "scale": {"domain": [-0.5, 4.5], "reverse": true, "nice": false, "zero": false}, "axis": null}, "text": {"field": "mom"}}}
          ]
        },
        {
          "width": 10, "height": 140,
          "layer": [
            {"data": {"name": "one"}, "mark": {"type": "rect", "color": "#DEDEDE"}, "encoding": {"y": {"datum": -0.5, "type": "quantitative", "scale": {"domain": [-0.5, 4.5], "reverse": true, "nice": false, "zero": false}, "axis": null}, "y2": {"datum": 0.5}}},
            {"data": {"name": "one"}, "mark": {"type": "rule", "color": "#8E0A0A", "strokeWidth": 3}, "encoding": {"y": {"datum": -0.5, "type": "quantitative", "scale": {"domain": [-0.5, 4.5], "reverse": true, "nice": false, "zero": false}, "axis": null}}},
            {"data": {"name": "one"}, "mark": {"type": "rule", "color": "#A52A2A", "strokeWidth": 1.3}, "encoding": {"y": {"datum": 0.5, "type": "quantitative", "scale": {"domain": [-0.5, 4.5], "reverse": true, "nice": false, "zero": false}, "axis": null}}},
            {"data": {"name": "one"}, "mark": {"type": "rule", "color": "#E6C2BA", "strokeWidth": 2}, "encoding": {"y": {"datum": 3.5, "type": "quantitative", "scale": {"domain": [-0.5, 4.5], "reverse": true, "nice": false, "zero": false}, "axis": null}}},
            {"data": {"name": "one"}, "mark": {"type": "rule", "color": "#8E0A0A", "strokeWidth": 3}, "encoding": {"y": {"datum": 4.5, "type": "quantitative", "scale": {"domain": [-0.5, 4.5], "reverse": true, "nice": false, "zero": false}, "axis": null}}}
          ]
        }
      ]
    }
  ]
}
